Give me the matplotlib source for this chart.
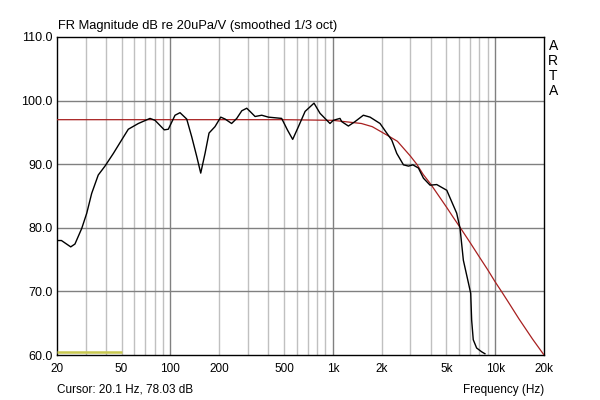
import matplotlib
matplotlib.use("Agg")
import matplotlib.pyplot as plt
from matplotlib.ticker import FixedLocator, NullFormatter

plt.rcParams['font.family'] = ['Liberation Sans', 'DejaVu Sans']

# Measured response (black)
freq = [20, 21.3, 22.9, 24.3, 25.8, 28.4, 30.5, 32.7, 35.9, 39.5, 44.5, 50, 55, 63.4,
        74.8, 80.3, 91.6, 97, 106.7, 114.5, 125.9, 135.2, 145.2, 153.6, 163.3, 172.8,
        188, 204, 217, 238, 256, 275, 295, 309, 332, 365, 401, 484, 525, 566, 614,
        675, 766, 834, 895, 961, 1007, 1107, 1134, 1247, 1371, 1542, 1696, 1954,
        2148, 2307, 2477, 2724, 2925, 3113, 3367, 3616, 3974, 4367, 5035, 5400,
        5795, 6080, 6370, 6780, 7070, 7165, 7330, 7690, 8260, 8650]
mag = [78.0, 78.0, 77.45, 77.0, 77.45, 79.9, 82.3, 85.4, 88.3, 89.7, 91.7, 93.8, 95.5, 96.4,
       97.2, 96.9, 95.4, 95.5, 97.7, 98.1, 97.1, 94.3, 91.2, 88.6, 91.7, 94.9,
       95.9, 97.4, 97.1, 96.4, 97.2, 98.4, 98.8, 98.3, 97.5, 97.7, 97.4, 97.2, 95.4, 93.9, 95.9,
       98.3, 99.6, 98.0, 97.2, 96.4, 96.9, 97.2, 96.7, 96.0, 96.7, 97.7, 97.4, 96.4,
       94.9, 93.8, 91.7, 89.9, 89.7, 89.9, 89.4, 87.8, 86.7, 86.8, 85.9, 84.1,
       82.3, 79.9, 74.9, 71.8, 69.7, 65.5, 62.4, 61.1, 60.5, 60.2]

# Target curve (red)
tfreq = [20, 200, 500, 1000, 1276, 1500, 1750, 1954, 2250, 2500, 2750, 3000, 3290,
         3600, 4000, 4500, 5000, 5500, 6140, 7000, 8000, 9000, 10000, 11000, 12000,
         14000, 17000, 20000]
tmag = [97.0, 97.0, 97.0, 96.9, 96.6, 96.4, 95.9, 95.2, 94.3, 93.6, 92.4, 91.3, 90.0,
        88.4, 86.9, 85.0, 83.3, 81.7, 79.9, 77.7, 75.4, 73.4, 71.5, 69.9, 68.4,
        65.7, 62.5, 60.0]

# Yellow marker line
yfreq = [20, 50]
ymag = [60.5, 60.5]

xticks = [20, 50, 100, 200, 500, 1000, 2000, 5000, 10000, 20000]
xlabels = ['20', '50', '100', '200', '500', '1k', '2k', '5k', '10k', '20k']
yticks = [60, 70, 80, 90, 100, 110]
ylabels = ['60.0', '70.0', '80.0', '90.0', '100.0', '110.0']

fig = plt.figure(figsize=(6, 4), dpi=100)
fig.patch.set_facecolor('white')
ax = fig.add_axes([0.095, 0.1125, 0.8117, 0.795])
ax.set_xscale('log')
ax.set_xlim(20, 20000)
ax.set_ylim(60, 110)

# grid
minor = []
for dec in [10, 100, 1000, 10000]:
    for m in range(2, 10):
        f = dec * m
        if 20 < f < 20000:
            minor.append(f)
for f in minor:
    ax.axvline(f, color='#c0c0c0', lw=1, zorder=1)
for f in [100, 1000, 10000]:
    ax.axvline(f, color='#808080', lw=1, zorder=1)
for v in yticks[1:-1]:
    ax.axhline(v, color='#808080', lw=1, zorder=1)

ax.plot(tfreq, tmag, color='#a82020', lw=0.9, zorder=3)
ax.plot(freq, mag, color='black', lw=1.0, zorder=4)
ax.plot(yfreq, ymag, color='#c8c850', lw=1.8, zorder=5, solid_capstyle='butt')

ax.xaxis.set_major_locator(FixedLocator(xticks))
ax.xaxis.set_minor_formatter(NullFormatter())
ax.set_xticks(xticks)
ax.set_xticklabels(xlabels)
ax.set_yticks(yticks)
ax.set_yticklabels(ylabels)
ax.tick_params(axis='both', which='both', length=0, labelsize=8.5, colors='black')
ax.tick_params(axis='y', labelsize=9)
ax.tick_params(axis='x', pad=6)
ax.tick_params(axis='y', pad=3)
for s in ax.spines.values():
    s.set_color('black')
    s.set_linewidth(1)

fig.text(0.097, 0.935, 'FR Magnitude dB re 20uPa/V (smoothed 1/3 oct)', fontsize=9.3,
         ha='left', va='center')
for i, ch in enumerate('ARTA'):
    fig.text(0.922, 1 - (46 + 15 * i) / 400, ch, fontsize=10, ha='center', va='center')
fig.text(0.095, 0.025, 'Cursor: 20.1 Hz, 78.03 dB', fontsize=8.5, ha='left', va='center')
fig.text(0.907, 0.025, 'Frequency (Hz)', fontsize=8.5, ha='right', va='center')

fig.savefig('out.png', dpi=100)
